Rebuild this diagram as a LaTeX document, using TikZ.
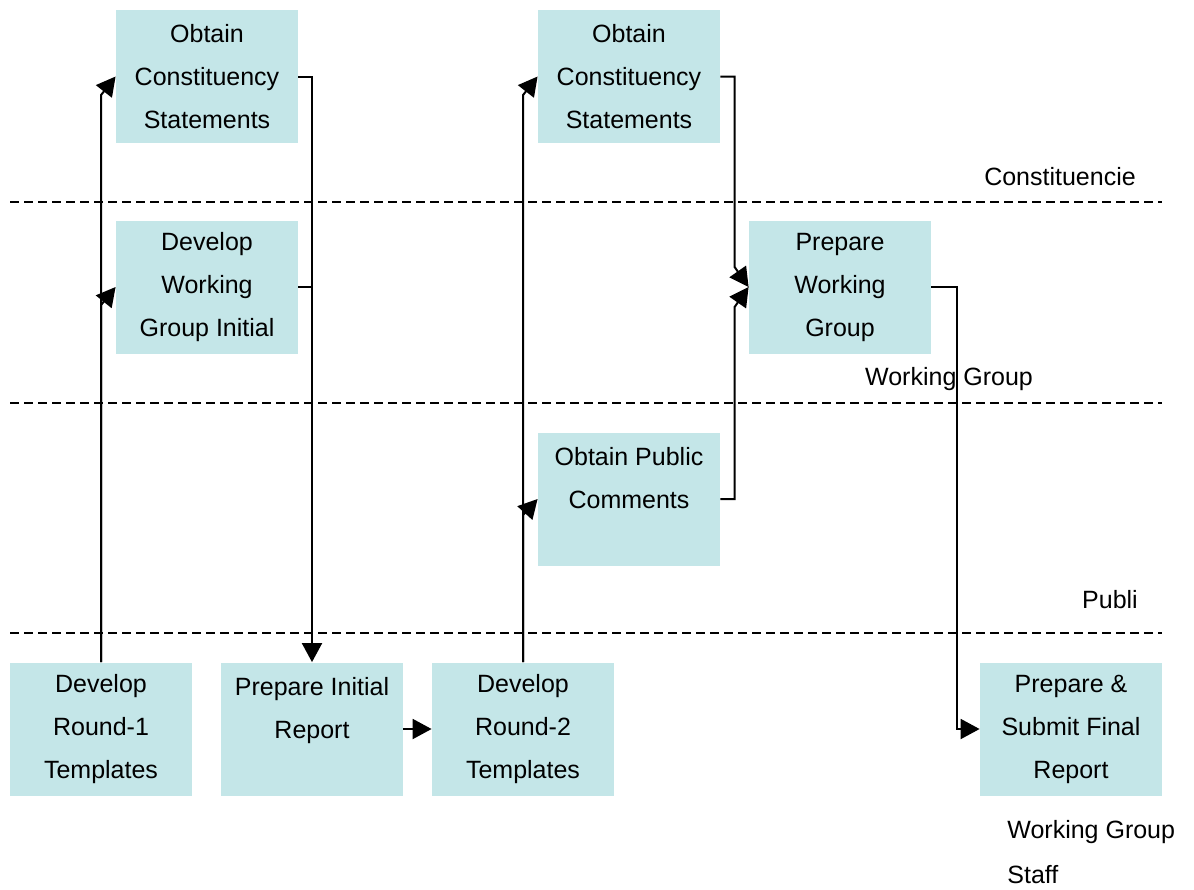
\documentclass[tikz,border=0pt]{standalone}
\usepackage{fontspec}
\setmainfont{Liberation Sans}
\usepackage{xcolor}
\usetikzlibrary{arrows.meta, positioning, calc}
\definecolor{boxteal}{RGB}{196,230,232}

\tikzset{
    task/.style={fill=boxteal, minimum width=91pt, minimum height=66.5pt, align=center, inner sep=0pt,
        font=\fontsize{12.5}{21.5}\selectfont},
    lane/.style={font=\fontsize{12.5}{22.5}\selectfont},
    flow/.style={line width=1pt, -{Triangle[length=9.5pt, width=10pt]}},
    link/.style={line width=1pt},
    lanesep/.style={line width=0.8pt, dash pattern=on 4.5pt off 2.5pt}
}

\begin{document}
\begin{tikzpicture}[x=0.5pt, y=-0.5pt]
    \useasboundingbox (0,0) rectangle (1194,889);

    % swim lane borders
    \foreach \y in {202, 403, 633} {
        \draw[lanesep] (10,\y) -- (1162,\y);
    }
    \node[lane] (lcon) at (1060,177) {Constituencie};
    \node[lane] (lwg) at (949,379) {Working Group};
    \node[lane] (lpub) at (1110,600) {Publi};
    \node[lane, align=left, anchor=west, inner sep=0pt] (lstaff) at (1007,852) {Working Group\\Staff};

    % tasks
    \node[task] (ocs1) at (207,76.5) {Obtain\\Constituency\\Statements};
    \node[task] (dwg) at (207,287) {Develop\\Working\\Group Initial};
    \node[task] (ocs2) at (629,76.5) {Obtain\\Constituency\\Statements};
    \node[task] (pwg) at (840,287) {Prepare\\Working\\Group};
    \node[task] (opc) at (629,499) {Obtain Public\\Comments\\~};
    \node[task] (dr1) at (101,729) {Develop\\Round-1\\Templates};
    \node[task] (pir) at (312,729) {Prepare Initial\\Report\\~};
    \node[task] (dr2) at (523,729) {Develop\\Round-2\\Templates};
    \node[task] (psf) at (1071,729) {Prepare \&\\Submit Final\\Report};

    % round 1
    \draw[flow] (dr1.north) -- ++(0,-567) -- (ocs1.west);
    \draw[flow] (dr1.north) -- ++(0,-357) -- (dwg.west);
    \draw[flow] (ocs1.east) -| (pir.north);
    \draw[link] (dwg.east) -- (dwg.east -| pir.north);
    \draw[flow] (pir) -- (dr2);

    % round 2
    \draw[flow] (dr2.north) -- ++(0,-567) -- (ocs2.west);
    \draw[flow] (dr2.north) -- ++(0,-147) -- (opc.west);
    \draw[flow] (ocs2.east) -| ([shift={(-14,-20)}]pwg.west) -- (pwg.west);
    \draw[flow] (opc.east) -| ([shift={(-14,20)}]pwg.west) -- (pwg.west);
    \draw[flow] (pwg.east) -| ([shift={(-23,0)}]psf.west) -- (psf.west);
\end{tikzpicture}
\end{document}
